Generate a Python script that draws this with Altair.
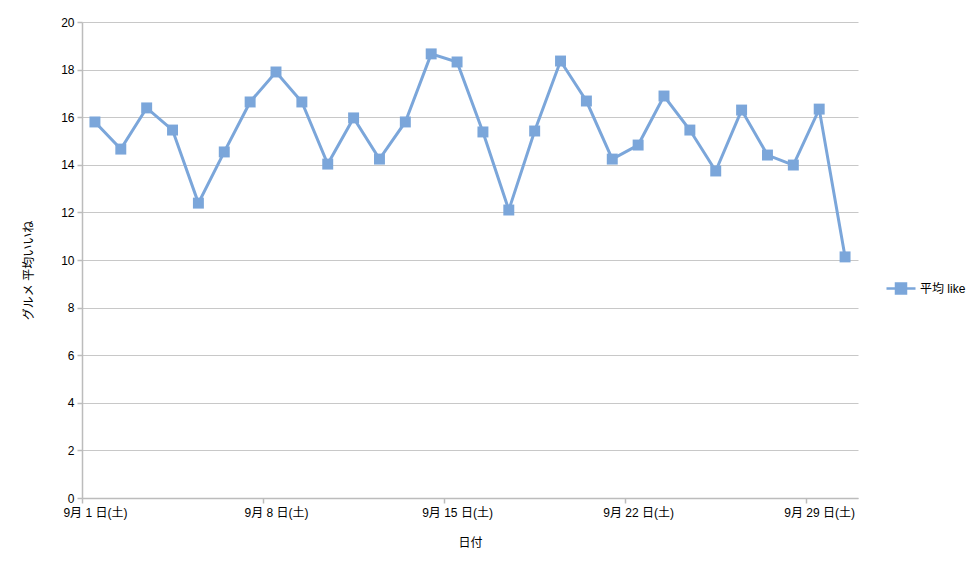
import altair as alt
import pandas as pd

days = list(range(1, 31))
values = [15.80, 14.66, 16.39, 15.46, 12.39, 14.54, 16.64, 17.90, 16.64, 14.03,
          15.97, 14.24, 15.80, 18.66, 18.32, 15.38, 12.10, 15.42, 18.36, 16.68,
          14.24, 14.83, 16.89, 15.46, 13.74, 16.30, 14.41, 13.99, 16.34, 10.13]
series_name = "平均 like"
x_tick_values = [0.5, 7.5, 14.5, 21.5, 28.5]
y_tick_values = list(range(0, 21, 2))

BLUE = "#7ba6da"
FONT = "Liberation Sans, Arial, Noto Sans CJK JP, sans-serif"

df = pd.DataFrame({"day": days, "value": values, "series": [series_name] * len(days)})

x_enc = alt.X(
    "day:Q",
    scale=alt.Scale(domain=[0.5, 30.5], nice=False, zero=False),
    axis=alt.Axis(
        values=x_tick_values,
        labelExpr="'9月 ' + (datum.value + 0.5) + ' 日(土)'",
        labelOffset=12.9,
        labelFlush=False,
        labelOverlap=False,
        grid=False,
        title="日付",
        titlePadding=19,
        tickSize=5,
        labelPadding=4,
    ),
)
y_enc = alt.Y(
    "value:Q",
    scale=alt.Scale(domain=[0, 20], nice=False),
    axis=alt.Axis(
        values=y_tick_values,
        title="グルメ 平均いいね",
        titleX=-54,
        titleY=248,
        titleAlign="center",
        titleBaseline="middle",
        tickSize=5,
        labelPadding=3,
    ),
)

line = alt.Chart(df).mark_line(strokeWidth=3).encode(
    x=x_enc,
    y=y_enc,
    color=alt.Color(
        "series:N",
        scale=alt.Scale(range=[BLUE]),
        legend=alt.Legend(
            title=None,
            orient="none",
            legendX=807.5,
            legendY=255,
            padding=0,
            symbolType="M-1.45,0H1.45M-0.5,-0.5H0.5V0.5H-0.5Z",
            symbolSize=400,
            symbolStrokeWidth=2.5,
            symbolFillColor=BLUE,
            symbolStrokeColor=BLUE,
            labelOffset=7.5,
            labelFontSize=12,
            labelFont=FONT,
            labelColor="#000000",
        ),
    ),
)

points = alt.Chart(df).mark_point(
    shape="square", filled=True, size=120, opacity=1, color=BLUE
).encode(x="day:Q", y="value:Q")

chart = (
    alt.layer(line, points)
    .properties(
        width=776,
        height=476,
        autosize="none",
        padding={"left": 74, "top": 14, "right": 112, "bottom": 67},
        background="white",
    )
    .configure_view(stroke=None)
    .configure_axis(
        labelFont=FONT,
        titleFont=FONT,
        labelFontSize=12,
        titleFontSize=12,
        titleFontWeight="normal",
        labelColor="#000000",
        titleColor="#000000",
        gridColor="#c8c8c8",
        gridWidth=1,
        domainColor="#bcbcbc",
        domainWidth=1.5,
        tickColor="#bcbcbc",
        tickWidth=1.5,
    )
)

chart.save("out.html", embed_options={"renderer": "svg", "actions": False})
